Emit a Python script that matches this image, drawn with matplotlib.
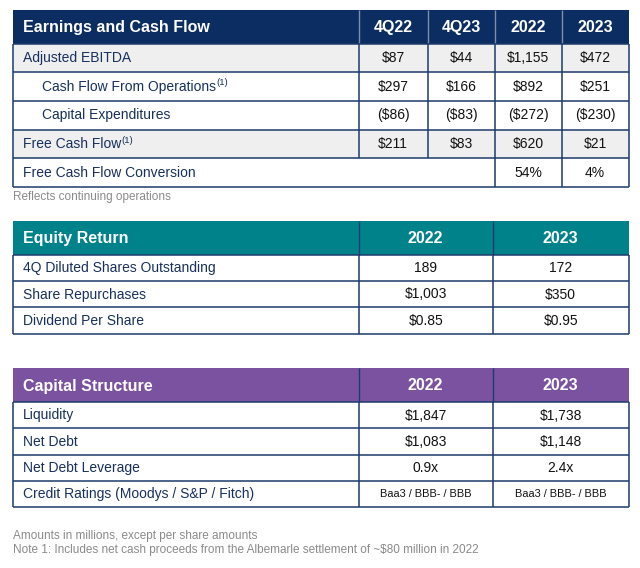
import matplotlib
matplotlib.use('Agg')
import matplotlib.pyplot as plt
from matplotlib.patches import Rectangle

plt.rcParams['font.family'] = ['Liberation Sans', 'DejaVu Sans']

# ---------------- data ----------------
t1_title = "Earnings and Cash Flow"
t1_cols = ["4Q22", "4Q23", "2022", "2023"]
t1_labels = ["Adjusted EBITDA", "Cash Flow From Operations", "Capital Expenditures",
             "Free Cash Flow", "Free Cash Flow Conversion"]
t1_sup = ["", "(1)", "", "(1)", ""]
t1_4q22 = ["$87", "$297", "($86)", "$211", ""]
t1_4q23 = ["$44", "$166", "($83)", "$83", ""]
t1_2022 = ["$1,155", "$892", "($272)", "$620", "54%"]
t1_2023 = ["$472", "$251", "($230)", "$21", "4%"]
t1_note = "Reflects continuing operations"

t2_title = "Equity Return"
t2_cols = ["2022", "2023"]
t2_labels = ["4Q Diluted Shares Outstanding", "Share Repurchases", "Dividend Per Share"]
t2_2022 = ["189", "$1,003", "$0.85"]
t2_2023 = ["172", "$350", "$0.95"]

t3_title = "Capital Structure"
t3_cols = ["2022", "2023"]
t3_labels = ["Liquidity", "Net Debt", "Net Debt Leverage", "Credit Ratings (Moodys / S&P / Fitch)"]
t3_2022 = ["$1,847", "$1,083", "0.9x", "Baa3 / BBB- / BBB"]
t3_2023 = ["$1,738", "$1,148", "2.4x", "Baa3 / BBB- / BBB"]

notes = ["Amounts in millions, except per share amounts",
         "Note 1: Includes net cash proceeds from the Albemarle settlement of ~$80 million in 2022"]

# ---------------- style ----------------
NAVY = '#0b2d61'
TEAL = '#00828a'
PURPLE = '#7a52a0'
LINE = '#1d3b6c'
LABEL = '#17305c'
VALUE = '#111111'
SHADE = '#efefef'
GRAY = '#8a8a8a'

fig = plt.figure(figsize=(6.4, 5.68), dpi=100)
ax = fig.add_axes([0, 0, 1, 1])
ax.set_xlim(0, 640)
ax.set_ylim(568, 0)
ax.axis('off')
renderer = fig.canvas.get_renderer()


def hline(x0, x1, y, color=LINE, lw=1.1):
    ax.plot([x0, x1], [y, y], color=color, lw=lw, solid_capstyle='butt', zorder=3)


def vline(x, y0, y1, color=LINE, lw=1.1):
    ax.plot([x, x], [y0, y1], color=color, lw=lw, solid_capstyle='butt', zorder=3)


def draw_table(xs, ys, hcolor, title, cols, labels, value_cols, shaded=None,
               indents=None, sups=None, span_rows=(), val_sizes=None, hdr_sep=LINE):
    left, right = xs[0], xs[-1]
    ncol = len(cols)
    # header
    ax.add_patch(Rectangle((left, ys[0]), right - left, ys[1] - ys[0], color=hcolor, zorder=1, lw=0))
    ax.text(left + 10, (ys[0] + ys[1]) / 2 + 1, title, color='white', fontsize=11.5,
            fontweight='bold', va='center', ha='left', zorder=4)
    for j, c in enumerate(cols):
        xc = (xs[j + 1] + xs[j + 2]) / 2
        ax.text(xc, (ys[0] + ys[1]) / 2 + 1, c, color='white', fontsize=11.5,
                fontweight='bold', va='center', ha='center', zorder=4)
    for j in range(1, len(xs) - 1):
        vline(xs[j], ys[0], ys[1], color=hdr_sep, lw=1.0)
    # body
    for i, lab in enumerate(labels):
        y0, y1 = ys[i + 1], ys[i + 2]
        ym = (y0 + y1) / 2 + 0.5
        if shaded and shaded[i]:
            ax.add_patch(Rectangle((left, y0), right - left, y1 - y0, color=SHADE, zorder=1, lw=0))
        ind = indents[i] if indents else 0
        t = ax.text(left + 10 + ind, ym, lab, color=LABEL, fontsize=10, va='center',
                    ha='left', zorder=4)
        if sups and sups[i]:
            bb = t.get_window_extent(renderer)
            xe = ax.transData.inverted().transform((bb.x1, 0))[0]
            ax.text(xe + 0.5, ym - 4, sups[i], color=LABEL, fontsize=6.8, va='center',
                    ha='left', zorder=4)
        for j in range(ncol):
            v = value_cols[j][i]
            if v:
                fs = val_sizes[i] if val_sizes else 10
                ax.text((xs[j + 1] + xs[j + 2]) / 2, ym, v, color=VALUE, fontsize=fs,
                        va='center', ha='center', zorder=4)
        hline(left, right, y1)
        # vertical separators
        for j in range(1, len(xs) - 1):
            if i in span_rows and j < len(xs) - 3:
                continue
            vline(xs[j], y0, y1)
    hline(left, right, ys[1])
    vline(left, ys[1], ys[-1])
    vline(right, ys[1], ys[-1])


# table 1
xs1 = [13, 358.5, 428, 494.5, 561.5, 628.5]
ys1 = [10, 43.5, 71.5, 100.5, 129.5, 158, 187]
draw_table(xs1, ys1, NAVY, t1_title, t1_cols, t1_labels,
           [t1_4q22, t1_4q23, t1_2022, t1_2023],
           shaded=[True, False, False, True, False],
           indents=[0, 19, 19, 0, 0], sups=t1_sup, span_rows=(4,),
           hdr_sep='#7f8fa8')
ax.text(13, 197, t1_note, color=GRAY, fontsize=8.5, va='center', ha='left')

# table 2
xs2 = [13, 358.5, 493, 628.5]
ys2 = [221, 254.5, 281, 307, 333.5]
draw_table(xs2, ys2, TEAL, t2_title, t2_cols, t2_labels, [t2_2022, t2_2023])

# table 3
xs3 = [13, 358.5, 493, 628.5]
ys3 = [368, 402, 428, 454.5, 480.5, 507]
draw_table(xs3, ys3, PURPLE, t3_title, t3_cols, t3_labels, [t3_2022, t3_2023],
           val_sizes=[10, 10, 10, 7.9])

for k, n in enumerate(notes):
    ax.text(13, 536 + k * 13.5, n, color=GRAY, fontsize=8.5, va='center', ha='left')

fig.savefig('out.png', dpi=100)
